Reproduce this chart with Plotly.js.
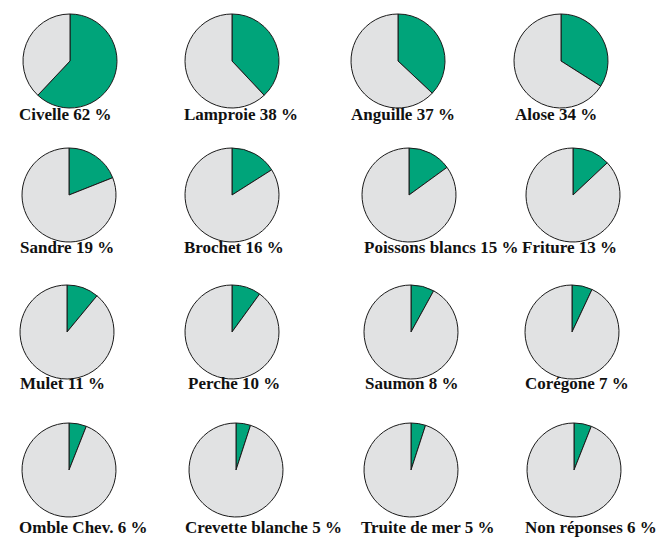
<!DOCTYPE html>
<html>
<head>
<meta charset="utf-8">
<script src="https://cdn.plot.ly/plotly-3.0.1.min.js"></script>
<style>html,body{margin:0;padding:0;background:#fff}#chart{width:657px;height:538px}</style>
</head>
<body>
<div id="chart"></div>
<script>
const categories = ["Civelle","Lamproie","Anguille","Alose","Sandre","Brochet","Poissons blancs","Friture","Mulet","Perche","Saumon","Corégone","Omble Chev.","Crevette blanche","Truite de mer","Non réponses"];
const percents = [62,38,37,34,19,16,15,13,11,10,8,7,6,5,5,6];
const pieCentersX = [70,232,398,561, 69,232,409,573, 67,232,411,572, 69,236,411,574];
const pieCentersY = [61,61,61,61, 195,195,195,195, 332,332,332,332, 470,470,470,470];
const labelCentersX = [65,241,403,556, 67,234,441,569, 62,234,412,577, 83,263,427,591];
const labelCentersY = [115,115,115,115, 248,248,248,248, 383,383,383,383, 527,527,527,527];

const W = 657, H = 538, R = 47;
const green = "#00a47a", grey = "#e1e2e3";
const traces = [], annotations = [];
categories.forEach((c, i) => {
  const cx = pieCentersX[i], cy = pieCentersY[i];
  traces.push({
    type: "pie",
    values: [percents[i], 100 - percents[i]],
    labels: ["Oui", "Non"],
    sort: false,
    direction: "clockwise",
    rotation: 0,
    textinfo: "none",
    hoverinfo: "none",
    showlegend: false,
    marker: {colors: [green, grey], line: {color: "#1a1a1a", width: 1}},
    domain: {x: [(cx - R) / W, (cx + R) / W], y: [1 - (cy + R) / H, 1 - (cy - R) / H]}
  });
  annotations.push({
    text: "<b>" + c + " " + percents[i] + " %</b>",
    x: labelCentersX[i] / W, y: 1 - labelCentersY[i] / H,
    xref: "paper", yref: "paper", xanchor: "center", yanchor: "middle",
    showarrow: false,
    font: {family: "Liberation Serif, serif", size: 17, color: "#111"}
  });
});
Plotly.newPlot("chart", traces, {
  width: W, height: H,
  margin: {l: 0, r: 0, t: 0, b: 0},
  paper_bgcolor: "#fff",
  annotations: annotations
}, {staticPlot: true});
</script>
</body>
</html>
